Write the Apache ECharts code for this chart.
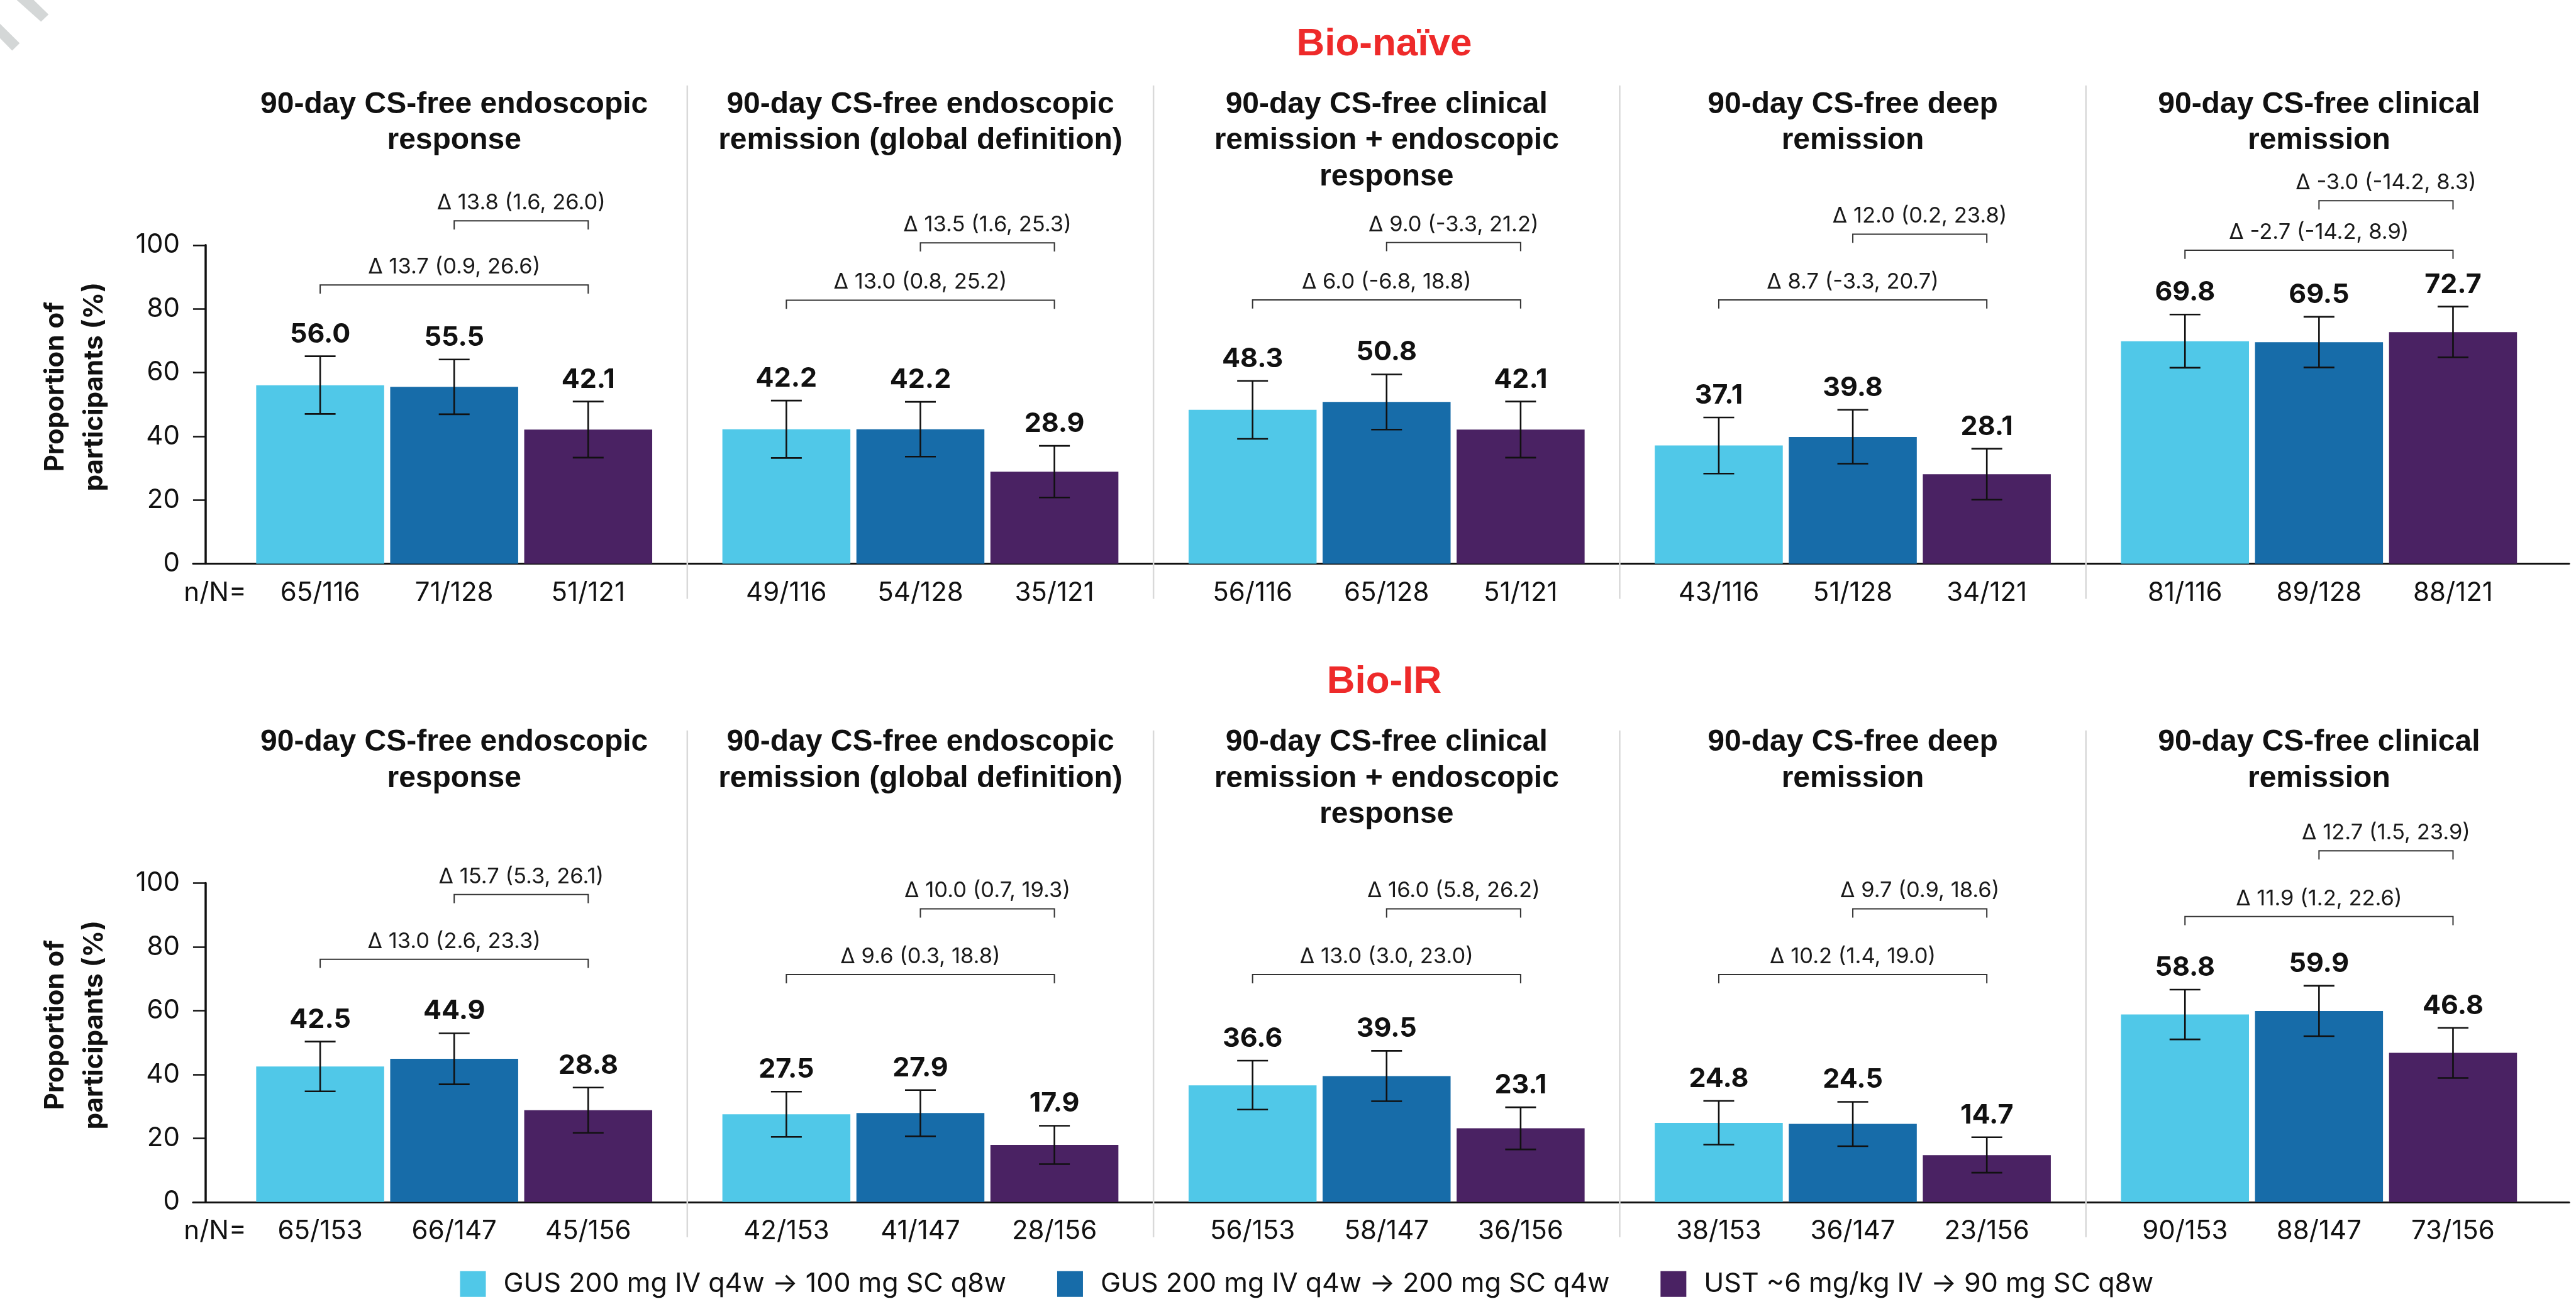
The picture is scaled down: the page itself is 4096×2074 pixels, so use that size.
<!DOCTYPE html>
<html>
<head>
<meta charset="utf-8">
<script src="https://cdn.jsdelivr.net/npm/echarts@6/dist/echarts.min.js"></script>
<style>html,body{margin:0;padding:0;background:#fff;}#c{width:4096px;height:2074px;}</style>
</head>
<body>
<div id="c"></div>
<script>
// ---------------- DATA ----------------
const outcomes = [
  '90-day CS-free endoscopic\nresponse',
  '90-day CS-free endoscopic\nremission (global definition)',
  '90-day CS-free clinical\nremission + endoscopic\nresponse',
  '90-day CS-free deep\nremission',
  '90-day CS-free clinical\nremission'
];
const groupNames = [
  'GUS 200 mg IV q4w \u2192 100 mg SC q8w',
  'GUS 200 mg IV q4w \u2192 200 mg SC q4w',
  'UST ~6 mg/kg IV \u2192 90 mg SC q8w'
];
const rowTitles = ['Bio-na\u00efve', 'Bio-IR'];
const yAxisTitle = 'Proportion of\nparticipants (%)';
const nLabel = 'n/N=';

// Bio-naive
const naiveGus100 = [56.0, 42.2, 48.3, 37.1, 69.8];
const naiveGus200 = [55.5, 42.2, 50.8, 39.8, 69.5];
const naiveUst    = [42.1, 28.9, 42.1, 28.1, 72.7];
const naiveGus100Ci = [[47.0, 65.1], [33.2, 51.2], [39.2, 57.4], [28.3, 45.9], [61.5, 78.2]];
const naiveGus200Ci = [[46.9, 64.1], [33.6, 50.8], [42.1, 59.4], [31.4, 48.3], [61.6, 77.5]];
const naiveUstCi    = [[33.3, 50.9], [20.8, 37.0], [33.3, 50.9], [20.1, 36.1], [64.8, 80.7]];
const naiveN = [
  ['65/116', '71/128', '51/121'],
  ['49/116', '54/128', '35/121'],
  ['56/116', '65/128', '51/121'],
  ['43/116', '51/128', '34/121'],
  ['81/116', '89/128', '88/121']
];
const naiveDeltaOuter = ['\u0394 13.7 (0.9, 26.6)', '\u0394 13.0 (0.8, 25.2)', '\u0394 6.0 (-6.8, 18.8)', '\u0394 8.7 (-3.3, 20.7)', '\u0394 -2.7 (-14.2, 8.9)'];
const naiveDeltaInner = ['\u0394 13.8 (1.6, 26.0)', '\u0394 13.5 (1.6, 25.3)', '\u0394 9.0 (-3.3, 21.2)', '\u0394 12.0 (0.2, 23.8)', '\u0394 -3.0 (-14.2, 8.3)'];
const naiveBracketOuter = [87.5, 82.7, 82.8, 82.8, 98.4];
const naiveBracketInner = [107.6, 100.7, 100.8, 103.4, 113.9];

// Bio-IR
const irGus100 = [42.5, 27.5, 36.6, 24.8, 58.8];
const irGus200 = [44.9, 27.9, 39.5, 24.5, 59.9];
const irUst    = [28.8, 17.9, 23.1, 14.7, 46.8];
const irGus100Ci = [[34.7, 50.3], [20.4, 34.6], [29.0, 44.3], [18.0, 31.7], [51.0, 66.6]];
const irGus200Ci = [[36.9, 52.9], [20.6, 35.1], [31.6, 47.4], [17.5, 31.4], [52.0, 67.8]];
const irUstCi    = [[21.7, 35.9], [11.9, 23.9], [16.5, 29.7], [9.2, 20.3], [38.9, 54.6]];
const irN = [
  ['65/153', '66/147', '45/156'],
  ['42/153', '41/147', '28/156'],
  ['56/153', '58/147', '36/156'],
  ['38/153', '36/147', '23/156'],
  ['90/153', '88/147', '73/156']
];
const irDeltaOuter = ['\u0394 13.0 (2.6, 23.3)', '\u0394 9.6 (0.3, 18.8)', '\u0394 13.0 (3.0, 23.0)', '\u0394 10.2 (1.4, 19.0)', '\u0394 11.9 (1.2, 22.6)'];
const irDeltaInner = ['\u0394 15.7 (5.3, 26.1)', '\u0394 10.0 (0.7, 19.3)', '\u0394 16.0 (5.8, 26.2)', '\u0394 9.7 (0.9, 18.6)', '\u0394 12.7 (1.5, 23.9)'];
const irBracketOuter = [76.1, 71.3, 71.3, 71.3, 89.5];
const irBracketInner = [96.4, 91.9, 91.9, 91.9, 110.1];

const yMin = 0, yMax = 100, yStep = 20;

// ---------------- STYLE / LAYOUT ----------------
const colors = ['#50C8E8', '#176CA9', '#4A2263'];
const INK = '#111111';
const RED = '#EE2A2A';
const SEP = '#D9D9D9';
const NUMF = 'Inter';
const TXTF = 'Liberation Sans';
const BAR_W = 203.5, GAP = 9.6, PITCH = BAR_W + GAP, CAP = 49, DROP = 13.8;
const GRID_L = 351.55, GRID_R = 38, BASE_L = 307, BASE_R = 11;

const rows = [
  { top: 389.8, height: 506.8, sepAbove: 253.7, sepBelow: 56, titleTop: 40,
    vals: [naiveGus100, naiveGus200, naiveUst], ci: [naiveGus100Ci, naiveGus200Ci, naiveUstCi],
    nN: naiveN, bo: naiveBracketOuter, bi: naiveBracketInner, to: naiveDeltaOuter, ti: naiveDeltaInner },
  { top: 1404.5, height: 507.3, sepAbove: 242.7, sepBelow: 56, titleTop: 1054,
    vals: [irGus100, irGus200, irUst], ci: [irGus100Ci, irGus200Ci, irUstCi],
    nN: irN, bo: irBracketOuter, bi: irBracketInner, to: irDeltaOuter, ti: irDeltaInner }
];

const grid = [], xAxis = [], yAxis = [], series = [], graphics = [], titles = [];

function errRender(params, api) {
  const c = api.value(0), s = api.value(1), lo = api.value(2), hi = api.value(3), v = api.value(4);
  const x = api.coord([c, 0])[0] + (s - 1) * PITCH;
  const yl = api.coord([c, lo])[1], yh = api.coord([c, hi])[1];
  const st = { stroke: INK, lineWidth: 2.6 };
  return { type: 'group', children: [
    { type: 'line', shape: { x1: x, y1: yh, x2: x, y2: yl }, style: st },
    { type: 'line', shape: { x1: x - CAP / 2, y1: yh, x2: x + CAP / 2, y2: yh }, style: st },
    { type: 'line', shape: { x1: x - CAP / 2, y1: yl, x2: x + CAP / 2, y2: yl }, style: st },
    { type: 'text', x: x, y: yh - 35, style: { text: v.toFixed(1), align: 'center', verticalAlign: 'middle',
      font: 'bold 43px ' + NUMF, fill: INK } }
  ] };
}

function makeAnnot(r) {
  return function (params, api) {
    const i = params.dataIndex;
    const p0 = api.coord([i, 0]);
    const cx = p0[0], y0 = p0[1];
    const y100 = api.coord([i, 100])[1];
    const band = api.size([1, 0])[0];
    const ch = [];
    if (i < outcomes.length - 1) {
      const sx = cx + band / 2;
      ch.push({ type: 'line', shape: { x1: sx, y1: y100 - r.sepAbove, x2: sx, y2: y0 + r.sepBelow },
        style: { stroke: SEP, lineWidth: 2.5 } });
    }
    const bst = { stroke: '#333333', lineWidth: 2, fill: null };
    const x1 = cx - PITCH, x2 = cx + PITCH;
    const yo = api.coord([i, r.bo[i]])[1];
    ch.push({ type: 'polyline', shape: { points: [[x1, yo + DROP], [x1, yo], [x2, yo], [x2, yo + DROP]] }, style: bst });
    ch.push({ type: 'text', x: (x1 + x2) / 2, y: yo - 28.5, style: { text: r.to[i], align: 'center', verticalAlign: 'middle', font: '34.5px ' + NUMF, fill: '#1a1a1a' } });
    const yi = api.coord([i, r.bi[i]])[1];
    ch.push({ type: 'polyline', shape: { points: [[cx, yi + DROP], [cx, yi], [x2, yi], [x2, yi + DROP]] }, style: bst });
    ch.push({ type: 'text', x: (cx + x2) / 2, y: yi - 28.5, style: { text: r.ti[i], align: 'center', verticalAlign: 'middle', font: '34.5px ' + NUMF, fill: '#1a1a1a' } });
    return { type: 'group', children: ch };
  };
}

rows.forEach((r, k) => {
  const gMain = grid.length;
  grid.push({ left: GRID_L, right: GRID_R, top: r.top, height: r.height, outerBoundsMode: 'none', containLabel: false });
  const gBase = grid.length;
  grid.push({ left: BASE_L, right: BASE_R, top: r.top, height: r.height, outerBoundsMode: 'none', containLabel: false });

  const xb = xAxis.length;
  xAxis.push({ type: 'category', gridIndex: gMain, position: 'bottom', data: outcomes,
    axisLine: { show: false }, axisTick: { show: false }, splitLine: { show: false },
    axisLabel: { interval: 0, margin: 25.6, hideOverlap: false,
      formatter: (v, i) => r.nN[i].map(t => '{a|' + t + '}').join(''),
      rich: { a: { width: PITCH, align: 'center', fontFamily: NUMF, fontSize: 42, lineHeight: 42, color: INK } } } });
  xAxis.push({ type: 'category', gridIndex: gMain, position: 'top', data: outcomes,
    axisLine: { show: false }, axisTick: { show: false }, splitLine: { show: false },
    axisLabel: { interval: 0, margin: 252, hideOverlap: false, verticalAlign: 'top', align: 'center',
      fontFamily: TXTF, fontWeight: 'bold', fontSize: 48, lineHeight: 57.5, color: INK } });
  xAxis.push({ type: 'value', gridIndex: gBase, min: 0, max: 1, axisLine: { show: true, onZero: false, lineStyle: { color: INK, width: 3.2 } },
    axisTick: { show: false }, axisLabel: { show: false }, splitLine: { show: false } });

  const yb = yAxis.length;
  yAxis.push({ type: 'value', gridIndex: gMain, min: yMin, max: yMax, interval: yStep, offset: 24.6,
    axisLine: { show: true, lineStyle: { color: INK, width: 3.5 } },
    axisTick: { show: true, length: 20, lineStyle: { color: INK, width: 2.5 } },
    splitLine: { show: false },
    axisLabel: { margin: 41, fontFamily: NUMF, fontSize: 42, color: INK },
    name: yAxisTitle, nameLocation: 'middle', nameRotate: 90, nameGap: 145.5,
    nameTextStyle: { fontFamily: NUMF, fontWeight: 'bold', fontSize: 42, lineHeight: 62, color: INK, padding: [0, 0, 0, 56] } });
  yAxis.push({ type: 'value', gridIndex: gBase, min: 0, max: 1, show: false });

  r.vals.forEach((arr, s) => {
    series.push({ type: 'bar', name: groupNames[s], xAxisIndex: xb, yAxisIndex: yb, data: arr,
      barWidth: BAR_W, barGap: (GAP / BAR_W * 100) + '%', itemStyle: { color: colors[s] }, silent: true, z: 2 });
  });

  const errData = [];
  outcomes.forEach((o, c) => {
    for (let s = 0; s < 3; s++) errData.push([c, s, r.ci[s][c][0], r.ci[s][c][1], r.vals[s][c]]);
  });
  series.push({ type: 'custom', xAxisIndex: xb, yAxisIndex: yb, data: errData, renderItem: errRender, z: 10, silent: true, clip: false });
  series.push({ type: 'custom', xAxisIndex: xb, yAxisIndex: yb, data: outcomes.map((o, i) => [i, 0]), renderItem: makeAnnot(r), z: 9, silent: true, clip: false });

  titles.push({ text: rowTitles[k], left: 2201, top: r.titleTop, textAlign: 'center', padding: 0,
    textStyle: { fontFamily: TXTF, fontWeight: 'bold', fontSize: 62, color: RED } });

  graphics.push({ type: 'text', x: 391.7, y: r.top + r.height + 46.6, style: { text: nLabel, align: 'right', verticalAlign: 'middle', font: '42px ' + NUMF, fill: INK } });
});

// faint watermark fragments in the top-left corner
graphics.push({ type: 'polygon', shape: { points: [[26.6, 0], [53.6, 0], [77.2, 23], [65.2, 34.6]] }, style: { fill: '#D4D7D7' } });
graphics.push({ type: 'polygon', shape: { points: [[0, 37.7], [31.3, 68.8], [19.3, 80.6], [0, 60.8]] }, style: { fill: '#D4D7D7' } });

const chart = echarts.init(document.getElementById('c'), null, { renderer: 'canvas', width: 4096, height: 2074 });
chart.setOption({
  animation: false,
  backgroundColor: '#ffffff',
  textStyle: { fontFamily: NUMF },
  title: titles,
  legend: { data: groupNames, left: 731.5, top: 2020.8, itemWidth: 41, itemHeight: 41, itemGap: 81, icon: 'rect',
    selectedMode: false, padding: 0,
    textStyle: { fontFamily: NUMF, fontSize: 43, color: INK, padding: [0, 0, 0, 23] } },
  grid: grid, xAxis: xAxis, yAxis: yAxis, series: series,
  graphic: graphics
});
</script>
</body>
</html>
